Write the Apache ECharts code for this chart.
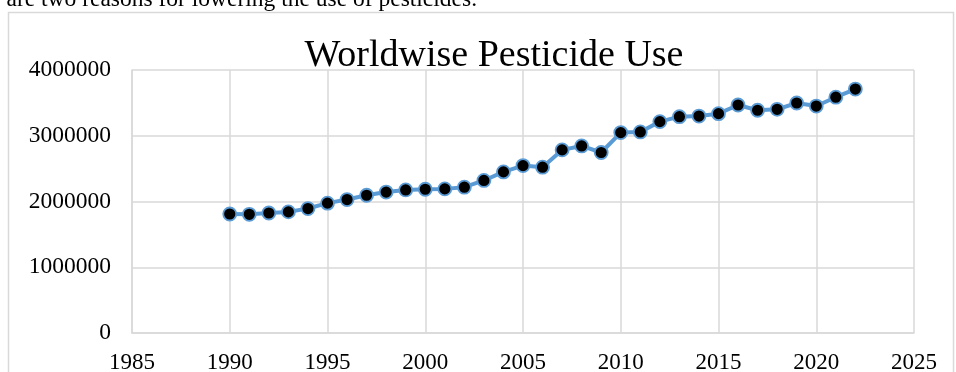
<!DOCTYPE html>
<html>
<head>
<meta charset="utf-8">
<script src="https://cdn.jsdelivr.net/npm/echarts@6/dist/echarts.min.js"></script>
<style>
  html, body { margin: 0; padding: 0; background: #ffffff; }
  #chart { width: 956px; height: 372px; }
</style>
</head>
<body>
<div id="chart"></div>
<script>
// Worldwide pesticide use per year (tonnes)
const years = [1990, 1991, 1992, 1993, 1994, 1995, 1996, 1997, 1998, 1999,
               2000, 2001, 2002, 2003, 2004, 2005, 2006, 2007, 2008, 2009,
               2010, 2011, 2012, 2013, 2014, 2015, 2016, 2017, 2018, 2019,
               2020, 2021, 2022];
const pesticideUse = [1810000, 1805000, 1825000, 1842000, 1893000, 1975000, 2030000, 2095000, 2143000, 2176000,
                      2186000, 2192000, 2218000, 2320000, 2450000, 2546000, 2522000, 2785000, 2845000, 2745000,
                      3048000, 3058000, 3215000, 3290000, 3300000, 3336000, 3468000, 3388000, 3402000, 3498000,
                      3452000, 3586000, 3710000];
const yearTicks = { min: 1985, max: 2025, step: 5 };
const useTicks = { min: 0, max: 4000000, step: 1000000 };
const chartTitle = 'Worldwise Pesticide Use';
const precedingLine = 's are two reasons for lowering the use of pesticides.';

const serif = '"Liberation Serif", "Times New Roman", serif';
const gridGray = '#d9d9d9';

const chart = echarts.init(document.getElementById('chart'), null, { renderer: 'canvas' });

chart.setOption({
  animation: false,
  backgroundColor: '#ffffff',
  grid: { left: 132, right: 42, top: 70, bottom: 39, containLabel: false, outerBoundsMode: 'none' },
  xAxis: {
    type: 'value',
    min: yearTicks.min,
    max: yearTicks.max,
    interval: yearTicks.step,
    axisLine: { show: true, lineStyle: { color: gridGray, width: 1.5 } },
    axisTick: { show: false },
    axisLabel: { color: '#000', fontFamily: serif, fontSize: 23, margin: 18, formatter: v => String(v) },
    splitLine: { show: true, lineStyle: { color: gridGray, width: 1.5 } }
  },
  yAxis: {
    type: 'value',
    min: useTicks.min,
    max: useTicks.max,
    interval: useTicks.step,
    axisLine: { show: true, lineStyle: { color: gridGray, width: 1.5 } },
    axisTick: { show: false },
    axisLabel: { color: '#000', fontFamily: serif, fontSize: 23.5, margin: 21, formatter: v => String(v) },
    splitLine: { show: true, lineStyle: { color: gridGray, width: 1.5 } }
  },
  series: [{
    type: 'line',
    data: years.map((y, i) => [y, pesticideUse[i]]),
    symbol: 'circle',
    symbolSize: 13,
    lineStyle: { color: '#5b9bd5', width: 4 },
    itemStyle: { color: '#000000', borderColor: '#5b9bd5', borderWidth: 1.8 },
    z: 3
  }],
  graphic: [
    {
      type: 'rect',
      silent: true,
      z: -1,
      shape: { x: 8.5, y: 12.5, width: 945, height: 420 },
      style: { fill: 'none', stroke: gridGray, lineWidth: 1.5 }
    },
    {
      type: 'text',
      silent: true,
      style: {
        text: precedingLine,
        x: 477, y: -12,
        align: 'right',
        verticalAlign: 'top',
        font: '23.5px ' + serif,
        fill: '#000'
      }
    },
    {
      type: 'text',
      silent: true,
      style: {
        text: chartTitle,
        x: 494, y: 37,
        align: 'center',
        verticalAlign: 'top',
        font: '38px ' + serif,
        fill: '#000'
      }
    }
  ]
});
</script>
</body>
</html>
